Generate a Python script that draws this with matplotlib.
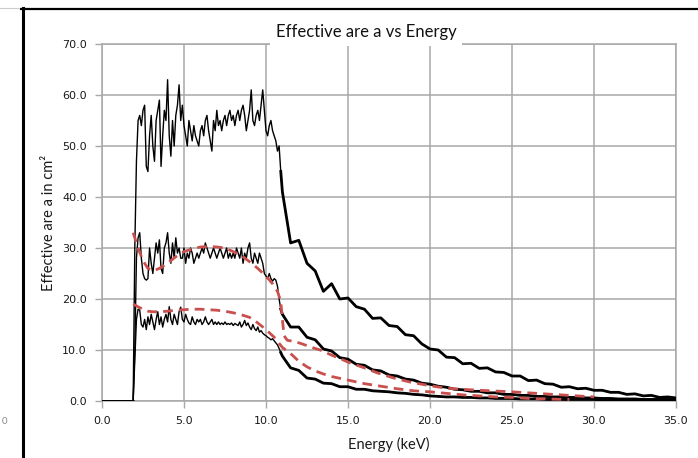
import numpy as np
import matplotlib
matplotlib.use('Agg')
import matplotlib.pyplot as plt
from matplotlib.lines import Line2D

plt.rcParams['font.family'] = ['Lato', 'DejaVu Sans']

# Energy grids (keV)
e_off = [0.0, 1.9]
e_head = [round(2.0 + 0.1 * i, 1) for i in range(90)]        # 2.0 .. 10.9
e_tail = [round(11.0 + 0.5 * i, 1) for i in range(49)]       # 11.0 .. 35.0

# Curve 1 (largest effective area)
top_head = [30, 47, 55, 56, 54, 57, 58, 46, 45, 52,
            56, 50, 47, 55, 57, 59, 46, 52, 57, 55,
            63, 52, 48, 55, 50, 56, 58, 62, 55, 58,
            54, 52, 50, 55, 53, 51, 54, 52, 51, 50,
            53, 54, 52, 55, 56, 53, 51, 49, 55, 53,
            57, 54, 55, 53, 55, 56, 54, 56, 57, 55,
            56, 54, 56, 57, 55, 57, 58, 56, 53, 55,
            57, 61, 55, 54, 56, 57, 55, 58, 61, 57,
            53, 52, 54, 55, 53, 52, 51, 49, 50, 45]
top_tail = [41, 31, 31.5, 27, 25.5, 21.5, 23, 20, 20.2, 18.5,
            18, 16.2, 16.3, 14.8, 14.6, 13, 12.8, 11.2, 10.2, 10.0,
            8.6, 8.5, 7.3, 7.4, 6.4, 6.5, 5.7, 5.6, 4.9, 4.9,
            4.0, 4.1, 3.4, 3.3, 2.7, 2.8, 2.4, 2.5, 2.1, 2.1,
            1.7, 1.7, 1.3, 1.4, 1.0, 1.1, 0.7, 0.8, 0.6]

# Curve 2 (middle)
mid_head = [10, 28, 32, 33, 28, 25, 24, 23.7, 24, 30,
            27, 25, 28, 31, 29, 31.6, 26, 25, 30, 31,
            33, 29, 27, 31, 28, 32, 29, 30, 28, 28,
            30, 27, 29, 28, 30, 29, 27, 28, 29, 28,
            29, 30, 29, 31, 30, 29, 28, 29, 30, 29,
            28, 29, 30, 29, 28, 29, 30, 28, 29, 28,
            29, 28, 30, 29, 28, 30, 27, 29, 28, 30,
            31, 28, 27, 29, 28, 27, 29, 28, 27, 25,
            24.5, 24, 25, 24, 23.5, 24, 23.7, 22.5, 20, 18]
mid_tail = [17, 14.5, 14.5, 12.5, 12, 10.2, 9.8, 8.5, 8.2, 7.2,
            7.0, 6.1, 5.9, 5.1, 4.9, 4.3, 4.1, 3.5, 3.3, 2.9,
            2.7, 2.3, 2.2, 1.9, 1.9, 1.6, 1.6, 1.3, 1.3, 1.1,
            1.1, 0.9, 0.9, 0.8, 0.8, 0.7, 0.7, 0.6, 0.6, 0.5,
            0.5, 0.4, 0.4, 0.4, 0.3, 0.3, 0.3, 0.3, 0.3]

# Curve 3 (smallest)
low_head = [8, 16, 18, 17.8, 15, 14.5, 16, 14, 16.5, 15,
            17, 15.5, 14, 16, 17.5, 15, 16.5, 14.5, 16, 17,
            15.5, 18.5, 16, 15, 17, 16, 15, 17.5, 18.4, 16,
            15.5, 17, 16, 15.3, 15, 16.5, 15.5, 15, 16, 15.5,
            16, 15, 15.5, 16.5, 15.5, 15, 15.5, 16, 15, 15.5,
            15, 15.5, 15, 15.3, 15, 15.5, 15, 15.2, 15, 15.3,
            14.8, 15.2, 15, 14.8, 15.5, 14.5, 15, 15.8, 14.8, 15.3,
            14.5, 14, 15, 14.2, 13.8, 14.5, 13.5, 13.8, 13.3, 13,
            12.8, 12.5, 12.3, 12, 12.2, 11.8, 11.4, 11, 10.3, 9.5]
low_tail = [8.8, 6.5, 6.0, 4.5, 4.3, 3.5, 3.4, 2.8, 2.8, 2.3,
            2.3, 2.0, 1.9, 1.8, 1.6, 1.5, 1.3, 1.2, 1.0, 0.9,
            0.8, 0.8, 0.7, 0.7, 0.6, 0.6, 0.5, 0.5, 0.5, 0.4,
            0.4, 0.4, 0.3, 0.3, 0.3, 0.3, 0.3, 0.3, 0.3, 0.2,
            0.2, 0.2, 0.2, 0.2, 0.2, 0.2, 0.2, 0.2, 0.2]

# Red dashed model curves
red1_e = [1.9, 2.2, 2.5, 2.8, 3.1, 3.5, 4.0, 4.5, 5.0, 5.5, 6.0, 6.5, 7.0, 7.5,
          8.0, 8.5, 9.0, 9.5, 10.0, 10.4, 10.7, 10.9, 11.0, 11.1, 11.3, 11.7,
          12.2, 12.8, 13.3, 14.0, 15.1, 16.0, 16.8, 17.8, 18.8, 20.0, 21.0,
          23.0, 25.0, 27.0, 29.0, 30.0]
red1_v = [33, 30, 27.5, 26, 25.5, 26, 27, 28.3, 29.3, 29.8, 30.2, 30.3, 30.2, 30,
          29.3, 28.5, 27.3, 26, 24.5, 23, 21.5, 19.5, 16, 12.8, 11.9, 11.7,
          11.2, 10.5, 10, 9, 7.5, 6.5, 5.5, 4.5, 3.7, 3.0, 2.5,
          2.1, 1.8, 1.4, 1.0, 0.8]
red2_e = [1.9, 2.3, 2.8, 3.1, 3.5, 4.0, 4.5, 5.0, 5.5, 6.0, 6.5, 7.0, 7.5, 8.0,
          8.5, 9.0, 9.5, 10.0, 10.5, 11.0, 11.5, 12.0, 12.5, 13.0, 13.5, 14.0,
          15.0, 16.0, 17.0, 18.0, 19.0, 20.0, 21.0, 22.0, 23.0, 24.0, 25.0,
          26.0, 27.0, 28.5]
red2_v = [19, 18.3, 17.6, 17.5, 17.5, 17.6, 17.8, 17.9, 18, 18, 17.9, 17.8, 17.6, 17.3,
          16.9, 16.4, 15.3, 14, 12.5, 10.5, 9.3, 7.8, 6.7, 5.9, 5.3, 4.8,
          4.1, 3.4, 2.9, 2.4, 2.0, 1.8, 1.5, 1.2, 1.0, 0.8, 0.7,
          0.5, 0.4, 0.3]

x_ticks = [0, 5, 10, 15, 20, 25, 30, 35]
y_ticks = [0, 10, 20, 30, 40, 50, 60, 70]

grid_col = '#a8a8a8'
red_col = '#c9504d'
text_col = '#1a1a1a'

fig = plt.figure(figsize=(6.98, 4.58), dpi=100)
ax = fig.add_axes([102 / 698, 1 - 401 / 458, 574 / 698, 357 / 458])

for head, tail in [(top_head, top_tail), (mid_head, mid_tail), (low_head, low_tail)]:
    e_all = e_off + e_head + e_tail
    v_all = [0, 0] + head + tail
    ax.plot(e_all, v_all, color='black', lw=1.0, zorder=3)
    ax.plot([e_head[-1]] + e_tail, [head[-1]] + tail, color='black', lw=2.0,
            zorder=3, solid_joinstyle='round')
ax.plot(e_off, [0, 0], color='black', lw=1.8, zorder=3)

ax.plot(red1_e, red1_v, color=red_col, lw=2.0, dashes=(3.5, 2.2), zorder=4)
ax.plot(red2_e, red2_v, color=red_col, lw=2.0, dashes=(3.5, 2.2), zorder=4)

ax.set_xlim(0, 35)
ax.set_ylim(0, 70)
ax.set_xticks(x_ticks)
ax.set_yticks(y_ticks)
ax.set_xticklabels([f'{t:.1f}' for t in x_ticks], family='DejaVu Sans')
ax.set_yticklabels([f'{t:.1f}' for t in y_ticks], family='DejaVu Sans')
ax.grid(True, color=grid_col, lw=1.1, zorder=0)
ax.set_axisbelow(True)
for sp in ax.spines.values():
    sp.set_color(grid_col)
    sp.set_linewidth(1.1)
ax.tick_params(axis='both', length=5, width=1.0, color=grid_col,
               labelsize=8, labelcolor=text_col, pad=6)

ax.set_xlabel('Energy (keV)', fontsize=10.5, color=text_col, labelpad=8)
ax.set_ylabel('Effective are a in cm²', fontsize=10.5, color=text_col, labelpad=4)

ax.text(0.4603, 1.0336, 'Effective are a vs Energy', transform=ax.transAxes,
        ha='center', va='center', fontsize=12, color='#111111', zorder=10,
        clip_on=False, bbox=dict(facecolor='white', edgecolor='none', pad=4))

# outer frame of the embedded chart
fig.add_artist(Line2D([23 / 698, 23 / 698], [1 - 8 / 458, 0], color='black', lw=2.2,
                      transform=fig.transFigure))
fig.add_artist(Line2D([21 / 698, 1.0], [1 - 9 / 458, 1 - 9 / 458], color='black', lw=1.6,
                      transform=fig.transFigure))
fig.add_artist(Line2D([0, 18 / 698], [1 - 8 / 458, 1 - 8 / 458], color='#cccccc', lw=0.8,
                      transform=fig.transFigure))
fig.text(2 / 698, 1 - 421 / 458, '0', fontsize=7, color='#888888', va='center')

fig.savefig('out.png', dpi=100)
